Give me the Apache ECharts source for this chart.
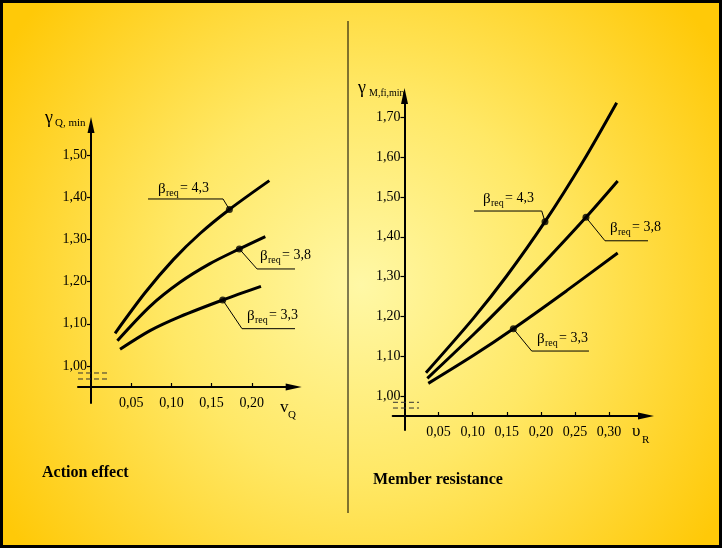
<!DOCTYPE html>
<html><head><meta charset="utf-8">
<script src="https://cdn.jsdelivr.net/npm/echarts@6/dist/echarts.min.js"></script>
<style>html,body{margin:0;padding:0;background:#fff}#c{width:722px;height:548px}</style>
</head><body><div id="c"></div>
<script>
// ---------- data ----------
const actionYTicks = [1.00, 1.10, 1.20, 1.30, 1.40, 1.50];
const actionXTicks = [0.05, 0.10, 0.15, 0.20];
const resistYTicks = [1.00, 1.10, 1.20, 1.30, 1.40, 1.50, 1.60, 1.70];
const resistXTicks = [0.05, 0.10, 0.15, 0.20, 0.25, 0.30];

// Action effect: gamma_Q,min vs v_Q
const actionBeta43 = [[0.0299,1.0774],[0.0672,1.1734],[0.1024,1.2520],[0.1356,1.3139],[0.1721,1.3709],[0.2218,1.4392]];
const actionBeta38 = [[0.0328,1.0600],[0.0734,1.1414],[0.1107,1.1983],[0.1480,1.2425],[0.1845,1.2773],[0.2168,1.3065]];
const actionBeta33 = [[0.0361,1.0395],[0.0734,1.0837],[0.1107,1.1169],[0.1638,1.1564],[0.2114,1.1888]];
const actionMarks  = [actionBeta43[4], actionBeta38[4], actionBeta33[3]];

// Member resistance: gamma_M,fi,min vs upsilon_R
const resistBeta43 = [[0.0315,1.0586],[0.1009,1.1951],[0.1498,1.3015],[0.2060,1.4380],[0.2622,1.5905],[0.3111,1.7370]];
const resistBeta38 = [[0.0335,1.0444],[0.1019,1.1558],[0.1498,1.2379],[0.2036,1.3333],[0.2661,1.4489],[0.3126,1.5402]];
const resistBeta33 = [[0.0349,1.0318],[0.1019,1.1030],[0.1596,1.1692],[0.2378,1.2647],[0.3126,1.3593]];
const resistMarks  = [resistBeta43[3], resistBeta38[4], resistBeta33[2]];

const betaLabels = ['4,3', '3,8', '3,3'];

// ---------- chart ----------
const FONT = '"Liberation Serif","DejaVu Serif","Times New Roman",serif';
const fmt = v => v.toFixed(2).replace('.', ',');

function yAxisCfg(grid, min, max, ticks, offset) {
  return {
    gridIndex: grid, type: 'value', min: min, max: max, position: 'left', offset: offset,
    axisLine: { show: true, onZero: false, symbol: ['none', 'triangle'], symbolSize: [7, 16],
      lineStyle: { color: '#000', width: 2 } },
    axisTick: { show: true, customValues: ticks, length: 4, lineStyle: { color: '#000', width: 1.2 } },
    axisLabel: { show: true, customValues: ticks, formatter: fmt, margin: 4,
      color: '#000', fontSize: 14, fontFamily: FONT },
    splitLine: { show: false }
  };
}
function xAxisCfg(grid, min, max, ticks, offset) {
  return {
    gridIndex: grid, type: 'value', min: min, max: max, position: 'bottom', offset: offset,
    axisLine: { show: true, onZero: false, symbol: ['none', 'triangle'], symbolSize: [7, 16],
      lineStyle: { color: '#000', width: 2 } },
    axisTick: { show: true, customValues: ticks, length: 4, inside: true, lineStyle: { color: '#000', width: 1.2 } },
    axisLabel: { show: true, customValues: ticks, formatter: fmt, margin: 9,
      color: '#000', fontSize: 14, fontFamily: FONT },
    splitLine: { show: false }
  };
}
function curve(idx, data) {
  return { type: 'line', xAxisIndex: idx, yAxisIndex: idx, data: data, smooth: 0.3,
    symbol: 'none', lineStyle: { color: '#000', width: 3 }, z: 3, silent: true };
}
function dots(idx, data) {
  return { type: 'scatter', xAxisIndex: idx, yAxisIndex: idx, data: data, symbolSize: 7,
    itemStyle: { color: '#000' }, z: 4, silent: true };
}
function leader(idx, pts) {
  return { type: 'line', xAxisIndex: idx, yAxisIndex: idx, data: pts, symbol: 'none', clip: false,
    lineStyle: { color: '#000', width: 1 }, z: 2, silent: true };
}
function dash(idx, pts) {
  return { type: 'line', xAxisIndex: idx, yAxisIndex: idx, data: pts, symbol: 'none', clip: false,
    lineStyle: { color: '#333', width: 1, type: [5, 3] }, z: 2, silent: true };
}

function betaText(x, y, val) {
  return [
    { type: 'text', x: x, y: y + 1, style: { text: 'β', font: '15px ' + FONT, fill: '#000', verticalAlign: 'middle', align: 'left' } },
    { type: 'text', x: x + 8, y: y + 5, style: { text: 'req', font: '10px ' + FONT, fill: '#000', verticalAlign: 'middle', align: 'left' } },
    { type: 'text', x: x + 22, y: y, style: { text: '= ' + val, font: '14px ' + FONT, fill: '#000', verticalAlign: 'middle', align: 'left' } }
  ];
}

const graphics = [
  { type: 'rect', shape: { x: 1.5, y: 1.5, width: 719, height: 545 }, style: { fill: 'none', stroke: '#000', lineWidth: 3 }, z: 10 },
  { type: 'line', shape: { x1: 348, y1: 21, x2: 348, y2: 513 }, style: { stroke: '#000', lineWidth: 1 } },
  // axis names
  { type: 'text', x: 45, y: 118, style: { text: 'γ', font: '18px ' + FONT, fill: '#000', verticalAlign: 'middle' } },
  { type: 'text', x: 55, y: 123, style: { text: 'Q, min', font: '11px ' + FONT, fill: '#000', verticalAlign: 'middle' } },
  { type: 'text', x: 280, y: 408, style: { text: 'v', font: '17px ' + FONT, fill: '#000', verticalAlign: 'middle' } },
  { type: 'text', x: 288, y: 415, style: { text: 'Q', font: '11px ' + FONT, fill: '#000', verticalAlign: 'middle' } },
  { type: 'text', x: 358, y: 88, style: { text: 'γ', font: '18px ' + FONT, fill: '#000', verticalAlign: 'middle' } },
  { type: 'text', x: 369, y: 93, style: { text: 'M,fi,min', font: '10px ' + FONT, fill: '#000', verticalAlign: 'middle' } },
  { type: 'text', x: 632, y: 432, style: { text: 'υ', font: '17px ' + FONT, fill: '#000', verticalAlign: 'middle' } },
  { type: 'text', x: 642, y: 440, style: { text: 'R', font: '11px ' + FONT, fill: '#000', verticalAlign: 'middle' } },
  // captions
  { type: 'text', x: 42, y: 473, style: { text: 'Action effect', font: 'bold 16px ' + FONT, fill: '#000', verticalAlign: 'middle' } },
  { type: 'text', x: 373, y: 480, style: { text: 'Member resistance', font: 'bold 16px ' + FONT, fill: '#000', verticalAlign: 'middle' } }
].concat(
  betaText(158, 188, betaLabels[0]),
  betaText(260, 255, betaLabels[1]),
  betaText(247, 315, betaLabels[2]),
  betaText(483, 198, betaLabels[0]),
  betaText(610, 227, betaLabels[1]),
  betaText(537, 338, betaLabels[2])
);

const option = {
  animation: false,
  backgroundColor: {
    type: 'radial', x: 0.5, y: 0.52, r: 0.78,
    colorStops: [
      { offset: 0, color: '#FFF8A6' },
      { offset: 0.45, color: '#FFE866' },
      { offset: 0.8, color: '#FFD42A' },
      { offset: 1, color: '#FFC908' }
    ]
  },
  grid: [
    { left: 78, right: 428.3, top: 125, bottom: 145, containLabel: false },
    { left: 392.7, right: 76, top: 96, bottom: 118, containLabel: false }
  ],
  xAxis: [
    xAxisCfg(0, -0.0162, 0.2521, actionXTicks, -16),
    xAxisCfg(1, -0.0173, 0.3541, resistXTicks, -14)
  ],
  yAxis: [
    yAxisCfg(0, 0.9123, 1.571, actionYTicks, -13),
    yAxisCfg(1, 0.9146, 1.7538, resistYTicks, -11.8)
  ],
  series: [
    curve(0, actionBeta43), curve(0, actionBeta38), curve(0, actionBeta33),
    dots(0, actionMarks),
    leader(0, [[0.0709,1.3957],[0.1642,1.3957],actionMarks[0]]),
    leader(0, [actionMarks[1],[0.2065,1.2299],[0.2873,1.2299]]),
    leader(0, [actionMarks[2],[0.1878,1.0884],[0.270,1.0884]]),
    dash(0, [[-0.0162,0.9834],[0.0211,0.9834]]),
    dash(0, [[-0.0162,0.9692],[0.0211,0.9692]]),

    curve(1, resistBeta43), curve(1, resistBeta38), curve(1, resistBeta33),
    dots(1, resistMarks),
    leader(1, [[0.1019,1.4648],[0.2012,1.4648],resistMarks[0]]),
    leader(1, [resistMarks[1],[0.294,1.390],[0.3776,1.390]]),
    leader(1, [resistMarks[2],[0.1865,1.113],[0.2705,1.113]]),
    dash(1, [[-0.0169,0.9842],[0.0213,0.9842]]),
    dash(1, [[-0.0169,0.9698],[0.0213,0.9698]])
  ],
  graphic: graphics
};

const chart = echarts.init(document.getElementById('c'), null, { renderer: 'canvas' });
chart.setOption(option);
</script></body></html>
